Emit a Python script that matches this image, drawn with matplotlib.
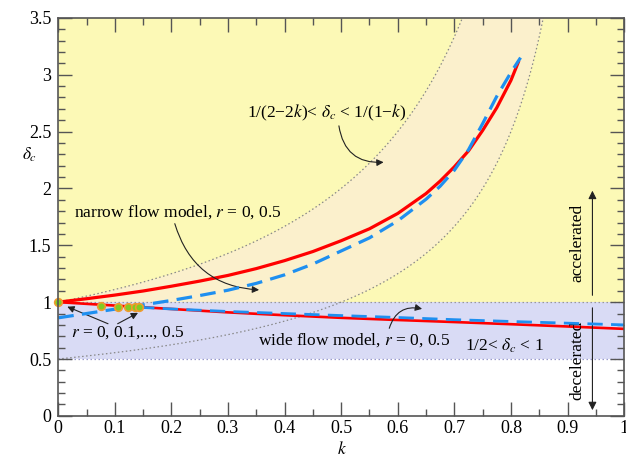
import matplotlib
matplotlib.use("Agg")
import numpy as np
import matplotlib.pyplot as plt

plt.rcParams["font.family"] = ["Liberation Serif", "DejaVu Serif"]
plt.rcParams["mathtext.fontset"] = "stix"

# narrow flow model (r = 0 solid red, r = 0.5 dashed blue)
k_nar_r0 = [0, 0.05, 0.1, 0.15, 0.2, 0.25, 0.3, 0.35, 0.4, 0.45, 0.5, 0.55, 0.6, 0.65,
            0.675, 0.7, 0.725, 0.75, 0.775, 0.8, 0.813]
d_nar_r0 = [1.0, 1.03, 1.062, 1.098, 1.14, 1.185, 1.235, 1.295, 1.365, 1.445, 1.54, 1.645,
            1.78, 1.955, 2.065, 2.19, 2.33, 2.51, 2.71, 2.95, 3.11]
k_nar_r5 = [0, 0.05, 0.1, 0.15, 0.2, 0.25, 0.3, 0.35, 0.4, 0.45, 0.5, 0.55, 0.6, 0.65,
            0.675, 0.7, 0.725, 0.75, 0.775, 0.8, 0.817]
d_nar_r5 = [0.862, 0.9, 0.938, 0.976, 1.015, 1.058, 1.105, 1.165, 1.24, 1.335, 1.45, 1.565,
            1.715, 1.905, 2.02, 2.16, 2.34, 2.57, 2.81, 3.02, 3.15]

# wide flow model
k_wid_r0 = [0, 0.05, 0.1, 0.15, 0.2, 0.3, 0.4, 0.5, 0.6, 0.7, 0.8, 0.9, 1.0]
d_wid_r0 = [1.0, 0.985, 0.97, 0.955, 0.94, 0.91, 0.885, 0.862, 0.843, 0.825, 0.806, 0.786, 0.765]
k_wid_r5 = [0.143, 0.2, 0.3, 0.4, 0.5, 0.6, 0.7, 0.8, 0.9, 1.0]
d_wid_r5 = [0.955, 0.94, 0.918, 0.9, 0.882, 0.865, 0.846, 0.83, 0.815, 0.80]

# critical points r = 0, 0.1, ..., 0.5
k_pts = [0, 0.075, 0.106, 0.123, 0.136, 0.143]
d_pts = [1.0, 0.965, 0.96, 0.955, 0.955, 0.955]

fig = plt.figure(figsize=(6.26, 4.57), dpi=100)
ax = fig.add_axes([0.093, 0.09, 0.904, 0.871])
ax.set_xlim(0, 1); ax.set_ylim(0, 3.5)

# background regions
ax.axhspan(1, 3.5, color="#fcf9b6", zorder=0, lw=0)
kk = np.linspace(0, 1, 400)
lo = 1/(2 - 2*kk)
hi = 1/np.clip(1 - kk, 1e-3, None)
ax.fill_between(kk, np.maximum(lo, 1), np.minimum(hi, 3.5), where=hi > 1,
                color="#fbf0cc", zorder=0.5, lw=0)
ax.axhspan(0.5, 1, color="#d9dbf5", zorder=1, lw=0)
dot = (0, (1.2, 2))
ax.axhline(1, color="#999999", lw=0.9, ls=dot, zorder=1.5)
ax.axhline(0.5, color="#9999cc", lw=0.9, ls=dot, zorder=1.5)
m = kk < 0.86
ax.plot(kk[m], lo[m], color="#888888", lw=0.9, ls=dot, zorder=1.5)
m = kk < 0.72
ax.plot(kk[m], hi[m], color="#888888", lw=0.9, ls=dot, zorder=1.5)

# curves
ax.plot(k_nar_r0, d_nar_r0, color="#ff0000", lw=2.3, zorder=3)
ax.plot(k_nar_r5, d_nar_r5, color="#1e8ff0", lw=2.3, dashes=(4.9, 2.6), zorder=3.2)
ax.plot(k_wid_r0, d_wid_r0, color="#ff0000", lw=1.9, zorder=3)
ax.plot(k_wid_r5, d_wid_r5, color="#1e8ff0", lw=2.0, dashes=(5.5, 3), zorder=3.2)
ax.plot(k_pts, d_pts, "o", ms=5.5, mfc="#7fcc22", mec="#f09a30", mew=1.2, zorder=4,
        clip_on=False)

# annotations
ap = dict(arrowstyle="-|>", color="#222222", lw=0.8, mutation_scale=10, shrinkA=0, shrinkB=0)
fs = 12.5
ax.text(0.474, 2.66, "1/(2\u22122$k$)< $\\delta_c$ < 1/(1\u2212$k$)", fontsize=fs,
        ha="center", va="center")
ax.annotate("", xy=(0.575, 2.23), xytext=(0.496, 2.55),
            arrowprops=dict(ap, connectionstyle="arc3,rad=0.45"))
ax.text(0.211, 1.79, "narrow flow model, $r$ = 0, 0.5", fontsize=fs, ha="center", va="center")
ax.annotate("", xy=(0.355, 1.108), xytext=(0.206, 1.69),
            arrowprops=dict(ap, connectionstyle="arc3,rad=0.35"))
ax.text(0.523, 0.668, "wide flow model, $r$ = 0, 0.5", fontsize=fs, ha="center", va="center")
ax.annotate("", xy=(0.643, 0.941), xytext=(0.585, 0.77),
            arrowprops=dict(ap, connectionstyle="arc3,rad=-0.45"))
ax.text(0.123, 0.73, "$r$ = 0, 0.1,..., 0.5", fontsize=fs, ha="center", va="center")
ax.annotate("", xy=(0.016, 0.96), xytext=(0.088, 0.81), arrowprops=ap)
ax.annotate("", xy=(0.141, 0.906), xytext=(0.105, 0.81), arrowprops=ap)
ax.text(0.789, 0.616, "1/2< $\\delta_c$ < 1", fontsize=fs, ha="center", va="center")

ax.text(0.917, 1.52, "accelerated", fontsize=fs, rotation=90, ha="center", va="center")
ax.annotate("", xy=(0.944, 1.98), xytext=(0.944, 1.06),
            arrowprops=dict(ap, mutation_scale=12))
ax.text(0.917, 0.49, "decelerated", fontsize=fs, rotation=90, ha="center", va="center")
ax.annotate("", xy=(0.944, 0.05), xytext=(0.944, 0.95),
            arrowprops=dict(ap, mutation_scale=12))

# axes styling
ax.set_xticks(np.arange(0, 1.01, 0.1))
ax.set_xticklabels(["0", "0.1", "0.2", "0.3", "0.4", "0.5", "0.6", "0.7", "0.8", "0.9", "1"])
ax.set_yticks(np.arange(0, 3.51, 0.5))
ax.set_yticklabels(["0", "0.5", "1", "1.5", "2", "2.5", "3", "3.5"])
ax.set_xticks(np.arange(0, 1.001, 0.05), minor=True)
ax.set_yticks(np.arange(0, 3.501, 0.1), minor=True)
ax.tick_params(which="both", direction="in", top=True, right=True, color="#555555",
               labelsize=13, width=1.0)
ax.tick_params(which="major", length=10, pad=5)
ax.tick_params(axis="x", which="major", pad=3)
ax.tick_params(which="minor", length=5)
for sp in ax.spines.values():
    sp.set_color("#555555"); sp.set_linewidth(1.2); sp.set_zorder(5)
fig.text(342/626, 1 - 449/457, "$k$", fontsize=fs, ha="center", va="center")
fig.text(30/626, 1 - 155/457, "$\\delta_c$", fontsize=fs, ha="center", va="center")

fig.savefig("out.png", dpi=100)
